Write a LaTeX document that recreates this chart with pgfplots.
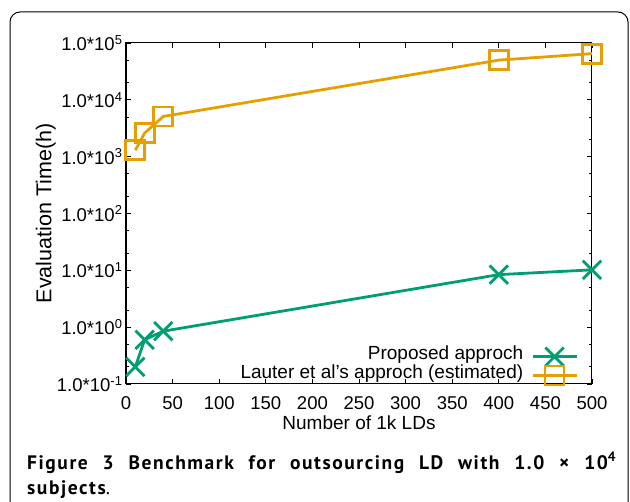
\documentclass[border=0pt]{standalone}
\usepackage{fontspec}
\setmainfont{Liberation Sans}
\newfontfamily\capfont[LetterSpace=8]{PT Sans}
\usepackage{pgfplots}
\pgfplotsset{compat=1.18}

\definecolor{cgreen}{RGB}{0,158,115}
\definecolor{corange}{RGB}{230,159,0}

\begin{document}
\begin{tikzpicture}
\useasboundingbox (0pt,0pt) rectangle (630pt,-502pt);
% rounded frame, bottom edge falls outside the page
\draw[line width=1pt, rounded corners=10pt] (10pt,-12pt) rectangle (628pt,-520pt);

\begin{axis}[
    at={(126pt,-384pt)}, anchor=south west,
    scale only axis,
    width=466pt, height=341pt,
    ymode=log,
    xmin=0, xmax=500,
    ymin=0.1, ymax=1e5,
    xtick={0,50,...,500},
    ytick={0.1,1,10,100,1000,10000,100000},
    yticklabels={1.0*10\textsuperscript{-1},1.0*10\textsuperscript{0},1.0*10\textsuperscript{1},1.0*10\textsuperscript{2},1.0*10\textsuperscript{3},1.0*10\textsuperscript{4},1.0*10\textsuperscript{5}},
    minor ytick={0.2,0.5,2,5,20,50,200,500,2000,5000,20000,50000},
    /pgf/number format/assume math mode=true,
    tick align=inside,
    major tick length=5pt, minor tick length=3pt,
    axis line style={line width=1pt},
    every tick/.style={black, line width=0.8pt},
    tick label style={font=\fontsize{18.5}{18.5}\selectfont},
    xticklabel style={yshift=-9pt},
    xlabel={Number of 1k LDs},
    ylabel={Evaluation Time(h)},
    xlabel style={font=\fontsize{19}{19}\selectfont, at={(axis description cs:0.5,-0.114)}, anchor=center},
    ylabel style={font=\fontsize{21.5}{21.5}\selectfont, at={(axis description cs:-0.172,0.5)}, anchor=center},
    clip=false,
    legend plot pos=right,
    legend cell align=right,
    legend image code/.code={\draw[mark repeat=2,mark phase=2,#1] plot coordinates {(0pt,0pt) (22pt,0pt) (44pt,0pt)};},
    legend style={draw=none, fill=none, inner sep=0pt, outer sep=0pt,
        at={(axis description cs:1,0)}, anchor=south east, xshift=-14pt, yshift=-1pt,
        font=\fontsize{19}{19}\selectfont,
        nodes={inner sep=0pt, text height=12.7pt, text depth=6pt},
        /tikz/every odd column/.style={column sep=8pt}},
]
\addplot[cgreen, line width=2.8pt, mark=x, mark size=13pt,
    mark options={solid, line width=2.8pt}] coordinates {
    (10,0.2) (20,0.6) (40,0.85) (400,8.4) (500,10.2)
};
\addplot[corange, line width=2.8pt, mark=square, mark size=9.5pt,
    mark options={solid, line width=2.8pt}] coordinates {
    (10,1300) (20,2600) (40,5100) (400,50000) (500,65000)
};
\legend{Proposed approch, Lauter et al's approch (estimated)}
\end{axis}

\node[anchor=north west, inner sep=0pt, text width=589pt, align=justify,
    font=\capfont\fontsize{19.5}{25}\selectfont] at (27pt,-452pt)
    {\textbf{Figure 3 Benchmark for outsourcing LD with 1.0 × 10\textsuperscript{4}\linebreak subjects}.};
\end{tikzpicture}
\end{document}
